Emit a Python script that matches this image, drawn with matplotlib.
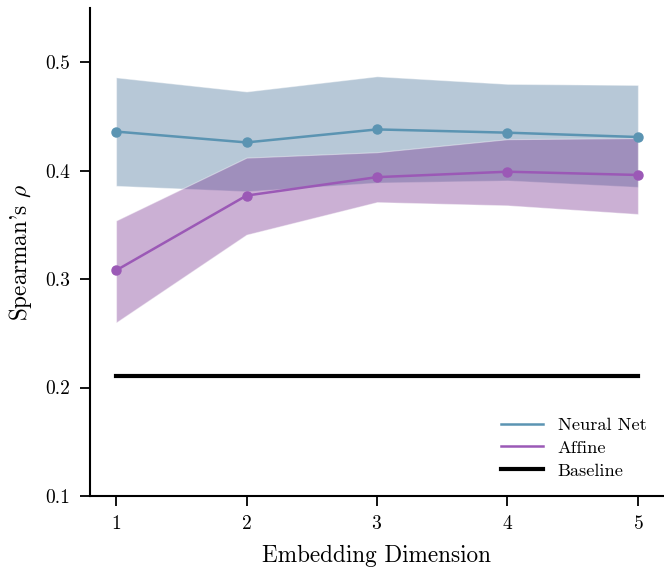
import matplotlib
matplotlib.use("Agg")
import matplotlib.pyplot as plt

plt.rcParams["font.family"] = "serif"
plt.rcParams["font.serif"] = ["cmr10", "DejaVu Serif"]
plt.rcParams["mathtext.fontset"] = "cm"
plt.rcParams["axes.formatter.use_mathtext"] = True

# === data ===
dims = [1, 2, 3, 4, 5]
nn_mean = [0.436, 0.426, 0.438, 0.435, 0.431]
nn_low = [0.386, 0.381, 0.389, 0.391, 0.385]
nn_high = [0.486, 0.473, 0.487, 0.480, 0.479]
aff_mean = [0.308, 0.377, 0.394, 0.399, 0.396]
aff_low = [0.260, 0.341, 0.371, 0.368, 0.360]
aff_high = [0.354, 0.412, 0.417, 0.429, 0.430]
baseline = 0.211

NN_LINE = "#5b94b2"
AFF_LINE = "#9b59b6"

fig = plt.figure(figsize=(6.64, 5.68), dpi=100)
ax = fig.add_axes([0.1355, 0.1268, 0.8645, 0.8592])

ax.fill_between(dims, nn_low, nn_high, color="#4b769b", alpha=0.4, linewidth=0.8, edgecolor="#ffffff40")
ax.fill_between(dims, aff_low, aff_high, color="#7d3a94", alpha=0.4, linewidth=0.8, edgecolor="#ffffff40")
ax.plot(dims, nn_mean, "-o", color=NN_LINE, lw=1.8, ms=6.5, label="Neural Net")
ax.plot(dims, aff_mean, "-o", color=AFF_LINE, lw=1.8, ms=6.5, label="Affine")
ax.plot([dims[0], dims[-1]], [baseline, baseline], color="black", lw=3, label="Baseline")

ax.set_xlim(0.8, 5.2)
ax.set_ylim(0.1, 0.55)
ax.set_xticks(dims)
ax.set_yticks([0.1, 0.2, 0.3, 0.4, 0.5])
ax.set_yticklabels(["0.1", "0.2", "0.3", "0.4", "0.5"])
ax.set_xlabel("Embedding Dimension", fontsize=16.7, labelpad=8)
ax.set_ylabel(r"Spearman's $\rho$", fontsize=16.7, labelpad=8)
ax.tick_params(labelsize=14, length=7, width=1.3, direction="out", pad=7)
for s in ("top", "right"):
    ax.spines[s].set_visible(False)
for s in ("left", "bottom"):
    ax.spines[s].set_linewidth(1.5)

leg = ax.legend(handles=ax.get_lines(), loc="lower right", frameon=False, fontsize=13.2,
                handlelength=2.3, labelspacing=0.38, borderaxespad=0.55)
for h in leg.legend_handles:
    h.set_marker("")

fig.savefig("out.png", dpi=100)
